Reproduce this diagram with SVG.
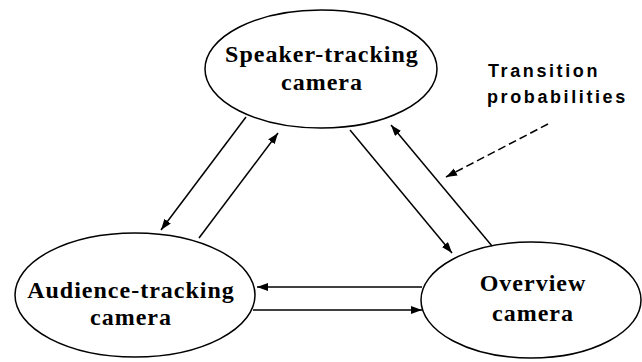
<svg xmlns="http://www.w3.org/2000/svg" width="642" height="362" viewBox="0 0 642 362">
<style>
.node ellipse{fill:#fff;stroke:#000;stroke-width:1.5}
.node text{font-family:"Liberation Serif","Times New Roman",serif;font-weight:bold;font-size:24px;letter-spacing:1px;text-anchor:middle;fill:#000}
.conn line{stroke:#000;stroke-width:1.5;marker-end:url(#ah)}
.label{font-family:"Liberation Sans",Arial,sans-serif;font-weight:bold;font-size:18px;letter-spacing:2.6px;fill:#000}
</style>
<defs>
<marker id="ah" markerUnits="userSpaceOnUse" markerWidth="12" markerHeight="9" refX="11" refY="4" orient="auto">
<path d="M0,0 L11,4 L0,8 z" fill="#000"/>
</marker>
</defs>
<rect width="642" height="362" fill="#fff"/>
<g id="speaker" class="node">
<ellipse cx="321" cy="69" rx="116" ry="59"/>
<text x="322" y="62">Speaker-tracking</text>
<text x="322" y="90">camera</text>
</g>
<g id="audience" class="node">
<ellipse cx="135" cy="295" rx="120" ry="62"/>
<text x="131" y="298">Audience-tracking</text>
<text x="131" y="325">camera</text>
</g>
<g id="overview" class="node">
<ellipse cx="531" cy="300" rx="110" ry="58"/>
<text x="533" y="291">Overview</text>
<text x="533" y="321">camera</text>
</g>
<g id="connectors" class="conn">
<line x1="246" y1="117" x2="161" y2="230"/>
<line x1="199" y1="238" x2="278" y2="133"/>
<line x1="350" y1="130" x2="452" y2="253"/>
<line x1="492" y1="246" x2="391" y2="125"/>
<line x1="422" y1="287" x2="257" y2="287"/>
<line x1="253" y1="310" x2="422" y2="310"/>
<line x1="548" y1="124" x2="446" y2="177" stroke-dasharray="8,4"/>
</g>
<g id="note">
<text class="label" x="488" y="77">Transition</text>
<text class="label" x="487" y="103">probabilities</text>
</g>
</svg>
